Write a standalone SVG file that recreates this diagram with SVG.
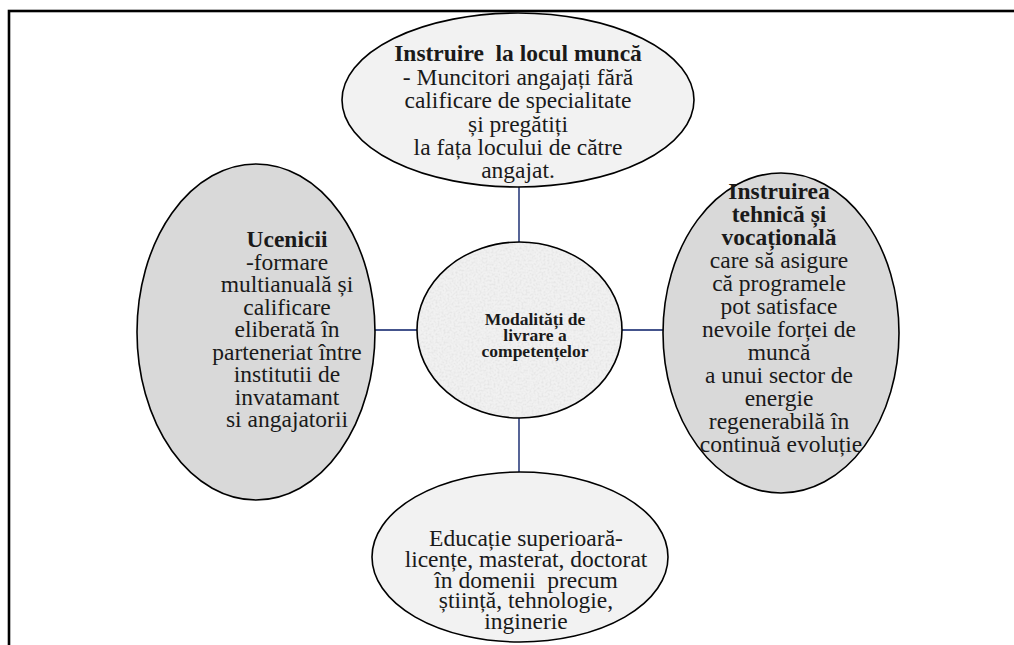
<svg xmlns="http://www.w3.org/2000/svg" width="1014" height="645" viewBox="0 0 1014 645">
<style>
.t{font-family:"Liberation Serif","Times New Roman",serif;font-size:23.5px;fill:#1a1a1a;text-anchor:middle}
.b{font-weight:bold}
.pre{white-space:pre}
.c{font-family:"Liberation Serif","Times New Roman",serif;font-size:17.5px;font-weight:bold;fill:#1a1a1a;text-anchor:middle}
.outline{fill:none;stroke:#000;stroke-width:1.6}
.light{fill:#f2f2f2}
.dark{fill:#d9d9d9}
.conn{stroke:#44548c;stroke-width:1.8;fill:none}
</style>
<defs>
<filter id="granite" x="0" y="0" width="100%" height="100%">
<feTurbulence type="fractalNoise" baseFrequency="0.5" numOctaves="3" seed="7" result="n"/>
<feColorMatrix in="n" type="matrix" values="0 0 0 0 0.7  0 0 0 0 0.7  0 0 0 0 0.7  0 0 0 1.4 -0.6" result="spots"/>
<feComposite in="spots" in2="SourceGraphic" operator="in" result="s"/>
<feMerge><feMergeNode in="SourceGraphic"/><feMergeNode in="s"/></feMerge>
</filter>
</defs>
<rect x="0" y="0" width="1014" height="645" fill="#fff"/>
<rect x="9" y="11" width="1030" height="660" fill="none" stroke="#000" stroke-width="2.6"/>

<g id="connectors">
<line class="conn" x1="519" y1="187" x2="519" y2="243"/>
<line class="conn" x1="519" y1="418" x2="519" y2="472"/>
<line class="conn" x1="375" y1="330" x2="417" y2="330"/>
<line class="conn" x1="622" y1="330" x2="663" y2="330"/>
</g>

<g id="node-top">
<ellipse class="light" cx="518" cy="100" rx="176" ry="87"/>
<ellipse class="outline" cx="518" cy="100" rx="176" ry="87"/>
<text class="t b pre" x="518" y="61">Instruire  la locul muncă</text>
<text class="t" x="518" y="85">- Muncitori angajați fără</text>
<text class="t" x="518" y="108">calificare de specialitate</text>
<text class="t" x="518" y="132">și pregătiți</text>
<text class="t" x="518" y="155">la fața locului de către</text>
<text class="t" x="518" y="178">angajat.</text>
</g>

<g id="node-left">
<ellipse class="dark" cx="256" cy="332" rx="119" ry="168"/>
<ellipse class="outline" cx="256" cy="332" rx="119" ry="168"/>
<text class="t b" x="287" y="247">Ucenicii</text>
<text class="t" x="287" y="269.5">-formare</text>
<text class="t" x="287" y="292">multianuală și</text>
<text class="t" x="287" y="314.5">calificare</text>
<text class="t" x="287" y="337">eliberată în</text>
<text class="t" x="287" y="359.5">parteneriat între</text>
<text class="t" x="287" y="382">institutii de</text>
<text class="t" x="287" y="404.5">invatamant</text>
<text class="t" x="287" y="427">si angajatorii</text>
</g>

<g id="node-right">
<ellipse class="dark" cx="781" cy="333" rx="118" ry="160"/>
<ellipse class="outline" cx="781" cy="333" rx="118" ry="160"/>
<text class="t b" x="779" y="199">Instruirea</text>
<text class="t b" x="779" y="222">tehnică și</text>
<text class="t b" x="779" y="245">vocațională</text>
<text class="t" x="779" y="268">care să asigure</text>
<text class="t" x="779" y="291">că programele</text>
<text class="t" x="779" y="314">pot satisface</text>
<text class="t" x="779" y="337">nevoile forței de</text>
<text class="t" x="779" y="360">muncă</text>
<text class="t" x="779" y="383">a unui sector de</text>
<text class="t" x="779" y="406">energie</text>
<text class="t" x="779" y="429">regenerabilă în</text>
<text class="t" x="781" y="452">continuă evoluție</text>
</g>

<g id="node-bottom">
<ellipse class="light" cx="520" cy="557" rx="148" ry="85"/>
<ellipse class="outline" cx="520" cy="557" rx="148" ry="85"/>
<text class="t" x="526" y="546">Educație superioară-</text>
<text class="t pre" x="526" y="567">licențe, masterat, doctorat</text>
<text class="t pre" x="526" y="588">în domenii  precum</text>
<text class="t" x="526" y="608">știință, tehnologie,</text>
<text class="t" x="526" y="629">inginerie</text>
</g>

<g id="node-center">
<ellipse cx="519.5" cy="330" rx="102.5" ry="88" fill="#f1f1f1" filter="url(#granite)"/>
<ellipse class="outline" cx="519.5" cy="330" rx="102.5" ry="88"/>
<text class="c" x="535" y="325">Modalități de</text>
<text class="c" x="535" y="341">livrare a</text>
<text class="c" x="535" y="357">competențelor</text>
</g>
</svg>
